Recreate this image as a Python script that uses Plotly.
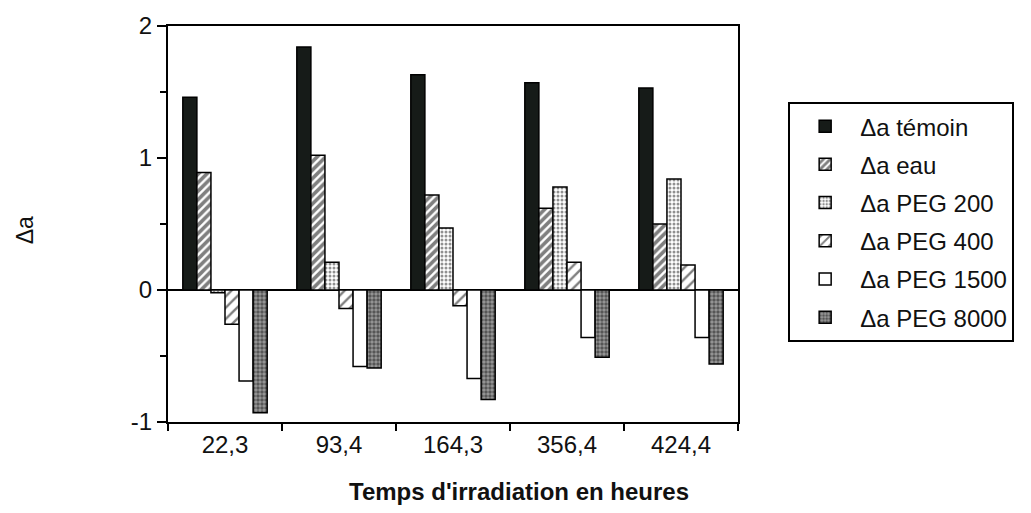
import plotly.graph_objects as go

# Irradiation times (hours) and absorbance shifts per treatment
temps = ["22,3", "93,4", "164,3", "356,4", "424,4"]
temoin = [1.46, 1.84, 1.63, 1.57, 1.53]
eau = [0.89, 1.02, 0.72, 0.62, 0.50]
peg200 = [-0.02, 0.21, 0.47, 0.78, 0.84]
peg400 = [-0.26, -0.14, -0.12, 0.21, 0.19]
peg1500 = [-0.69, -0.58, -0.67, -0.36, -0.36]
peg8000 = [-0.93, -0.59, -0.83, -0.51, -0.56]

series = [
    ("Δa témoin", temoin, dict(color="#161b18")),
    ("Δa eau", eau, dict(color="white", pattern=dict(shape="/", fgcolor="black", bgcolor="white", size=6, solidity=0.6))),
    ("Δa PEG 200", peg200, dict(color="white", pattern=dict(shape=".", fgcolor="#222", bgcolor="white", size=4, solidity=0.45))),
    ("Δa PEG 400", peg400, dict(color="white", pattern=dict(shape="/", fgcolor="black", bgcolor="white", size=8, solidity=0.3))),
    ("Δa PEG 1500", peg1500, dict(color="white")),
    ("Δa PEG 8000", peg8000, dict(color="#555", pattern=dict(shape=".", fgcolor="#111", bgcolor="#9a9a9a", size=4, solidity=0.6))),
]

fig = go.Figure()
for i, (name, vals, mk) in enumerate(series):
    fig.add_trace(go.Bar(
        name=name, x=temps, y=vals,
        marker=dict(**mk, line=dict(color="black", width=1.5)),
        legendgroup=f"g{i}",
    ))

font = "Liberation Sans, Arial, Helvetica, sans-serif"
fig.update_layout(
    width=1031, height=513,
    margin=dict(l=168, r=293, t=19, b=91),
    paper_bgcolor="white", plot_bgcolor="white",
    barmode="group", bargap=0.26, bargroupgap=0,
    font=dict(family=font, size=24, color="#111"),
    showlegend=True,
    legend=dict(
        x=1.088, xanchor="left", y=0.808, yanchor="top",
        bordercolor="black", borderwidth=2,
        font=dict(size=24), tracegroupgap=4,
        itemwidth=60,
    ),
    xaxis=dict(
        type="category", showline=True, linecolor="black", linewidth=2,
        mirror=True, ticks="outside", tickson="boundaries", ticklen=7,
        tickwidth=2, tickcolor="black", showgrid=False,
        tickfont=dict(size=24),
    ),
    yaxis=dict(
        range=[-1, 2], tickvals=[-1, 0, 1, 2], ticktext=["-1", "0", "1", "2"],
        showline=True, linecolor="black", linewidth=2, mirror=True,
        ticks="outside", ticklen=9, tickwidth=2, tickcolor="black",
        minor=dict(dtick=0.5, ticks="outside", ticklen=6, tickwidth=2, tickcolor="black"),
        showgrid=False, zeroline=True, zerolinecolor="black", zerolinewidth=2,
        tickfont=dict(size=24),
    ),
    annotations=[
        dict(
            text="<b>Temps d'irradiation en heures</b>", xref="paper", yref="paper",
            x=0.616, y=-0.176, xanchor="center", yanchor="middle",
            showarrow=False, font=dict(size=24),
        ),
        dict(
            text="Δa", xref="paper", yref="paper", textangle=-90,
            x=-0.251, y=0.484, xanchor="center", yanchor="middle",
            showarrow=False, font=dict(size=23),
        ),
    ],
)

fig.write_html("out.html")
